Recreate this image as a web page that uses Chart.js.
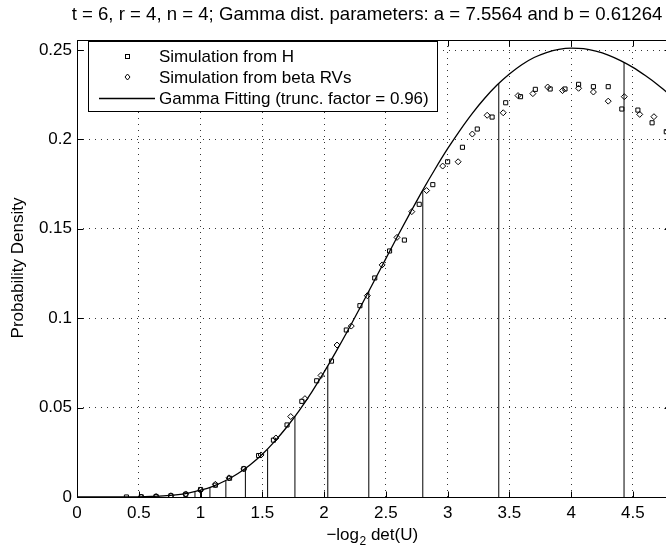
<!DOCTYPE html>
<html>
<head>
<meta charset="utf-8">
<script src="https://cdn.jsdelivr.net/npm/chart.js@4.4.0/dist/chart.umd.min.js"></script>
<style>
html, body { margin: 0; padding: 0; background: #fff; overflow: hidden; width: 666px; height: 553px; }
canvas { display: block; }
</style>
</head>
<body>
<canvas id="pdfChart" width="680" height="553"></canvas>
<script>
// tick positions
const xTicks = [0, 0.5, 1, 1.5, 2, 2.5, 3, 3.5, 4, 4.5];
const yTicks = [0, 0.05, 0.1, 0.15, 0.2, 0.25];

// gamma fit curve
const curveX = [0, 0.3, 0.4, 0.5, 0.6, 0.7, 0.8, 0.9, 1.0, 1.1, 1.2, 1.3, 1.4, 1.5, 1.6, 1.7, 1.8, 1.9, 2.0,
  2.1, 2.2, 2.3, 2.4, 2.5, 2.6, 2.7, 2.8, 2.9, 3.0, 3.1, 3.2, 3.3, 3.4, 3.5, 3.6, 3.7, 3.8, 3.9, 4.0,
  4.1, 4.2, 4.3, 4.4, 4.5, 4.6, 4.7, 4.8];
const curveY = [0, 0, 0.00003, 0.0001, 0.0003, 0.0006, 0.0012, 0.0022, 0.0038, 0.0060, 0.0091, 0.0130, 0.0179, 0.0239, 0.0311, 0.0393, 0.0485, 0.0587, 0.0698,
  0.0817, 0.0941, 0.1070, 0.1201, 0.1333, 0.1465, 0.1593, 0.1718, 0.1836, 0.1948, 0.2051, 0.2146, 0.2230, 0.2304, 0.2366, 0.2418, 0.2458, 0.2486, 0.2504, 0.2511,
  0.2508, 0.2494, 0.2472, 0.2441, 0.2403, 0.2357, 0.2306, 0.2249];

// vertical stems under the curve
const stemX = [0.955, 1.0, 1.076, 1.205, 1.363, 1.543, 1.764, 2.03, 2.362, 2.799, 3.414, 4.428];
const stemY = [0.0030, 0.0038, 0.0054, 0.0092, 0.0160, 0.0267, 0.0451, 0.0733, 0.1151, 0.1716, 0.2312, 0.2432];

// Simulation from H (squares)
const hX = [0.40, 0.52, 0.64, 0.76, 0.88, 1.00, 1.12, 1.235, 1.35, 1.47, 1.59, 1.70, 1.82, 1.94, 2.06,
  2.18, 2.29, 2.41, 2.53, 2.65, 2.77, 2.88, 3.00, 3.12, 3.24, 3.36, 3.47, 3.59, 3.71, 3.83,
  3.95, 4.06, 4.18, 4.30, 4.41, 4.54, 4.655, 4.77];
const hY = [0.0000, 0.0001, 0.0003, 0.0007, 0.0015, 0.0042, 0.0066, 0.0105, 0.0158, 0.0232, 0.0318, 0.0403, 0.0535, 0.0650, 0.0760,
  0.0934, 0.1070, 0.1225, 0.1376, 0.1437, 0.1637, 0.1747, 0.1875, 0.1956, 0.2058, 0.2125, 0.2205, 0.2239, 0.2280, 0.2282,
  0.2282, 0.2308, 0.2295, 0.2295, 0.2170, 0.2164, 0.2093, 0.2043];

// Simulation from beta RVs (diamonds)
const betaX = [0.52, 0.64, 0.76, 0.88, 1.00, 1.12, 1.23, 1.35, 1.49, 1.61, 1.73, 1.845, 1.975, 2.105, 2.22,
  2.35, 2.47, 2.59, 2.71, 2.83, 2.96, 3.085, 3.20, 3.32, 3.45, 3.57, 3.69, 3.81, 3.93, 4.06,
  4.18, 4.30, 4.43, 4.555, 4.67, 4.79];
const betaY = [0.0000, 0.0003, 0.0007, 0.0017, 0.0038, 0.0071, 0.0107, 0.0157, 0.0235, 0.0330, 0.0450, 0.0550, 0.0680, 0.0850, 0.0956,
  0.1126, 0.1298, 0.1452, 0.1596, 0.1714, 0.1851, 0.1875, 0.2030, 0.2135, 0.2149, 0.2245, 0.2256, 0.2293, 0.2273, 0.2286,
  0.2265, 0.2214, 0.2239, 0.2140, 0.2127, 0.2050];

const titleText = 't = 6, r = 4, n = 4; Gamma dist. parameters: a = 7.5564 and b = 0.61264';
const legendLabels = ['Simulation from H', 'Simulation from beta RVs', 'Gamma Fitting (trunc. factor = 0.96)'];
const yLabel = 'Probability Density';

const FONT = "'Liberation Sans', Arial, Helvetica, sans-serif";

function zip(xs, ys) { return xs.map((v, i) => ({ x: v, y: ys[i] })); }

// stems: (x,0) -> (x,y) then a gap
var stemPts = [];
stemX.forEach((v, i) => {
  stemPts.push({ x: v, y: 0 }, { x: v, y: stemY[i] }, { x: v, y: null });
});

function fmt(v) { return String(Math.round(v * 1000) / 1000); }

// frame, inward ticks, legend box, titles
const matlabBits = {
  id: 'matlabBits',
  afterDatasetsDraw(chart) {
    const { ctx, chartArea: a, scales } = chart;
    const x = scales.x, y = scales.y;
    const L = Math.round(a.left) + 0.5, R = Math.round(a.right) + 0.5;
    const T = Math.round(a.top) + 0.5, B = Math.round(a.bottom) + 0.5;
    ctx.save();
    ctx.strokeStyle = '#000';
    ctx.lineWidth = 1;
    ctx.beginPath();
    ctx.rect(L, T, R - L, B - T);
    ctx.stroke();

    // inward ticks
    ctx.beginPath();
    xTicks.forEach(v => {
      const px = Math.round(x.getPixelForValue(v)) + 0.5;
      ctx.moveTo(px, B); ctx.lineTo(px, B - 6);
      ctx.moveTo(px, T); ctx.lineTo(px, T + 6);
    });
    yTicks.forEach(v => {
      const py = Math.round(y.getPixelForValue(v)) + 0.5;
      ctx.moveTo(L, py); ctx.lineTo(L + 6, py);
      ctx.moveTo(R, py); ctx.lineTo(R - 6, py);
    });
    ctx.stroke();

    // legend
    const bx = 88.5, by = 41.5, bw = 349, bh = 70;
    ctx.fillStyle = '#fff';
    ctx.fillRect(bx, by, bw, bh);
    ctx.strokeRect(bx, by, bw, bh);
    const rows = [56.5, 77, 98];
    // square
    ctx.strokeRect(125.5, rows[0] - 2, 4, 4);
    // diamond
    ctx.beginPath();
    ctx.moveTo(127.5, rows[1] - 3); ctx.lineTo(130, rows[1]);
    ctx.lineTo(127.5, rows[1] + 3); ctx.lineTo(125, rows[1]); ctx.closePath();
    ctx.stroke();
    // line
    ctx.beginPath();
    ctx.lineWidth = 1.3;
    ctx.moveTo(99, rows[2] + 0.5); ctx.lineTo(155, rows[2] + 0.5);
    ctx.stroke();
    ctx.fillStyle = '#000';
    ctx.font = '17px ' + FONT;
    ctx.textBaseline = 'middle';
    ctx.textAlign = 'left';
    legendLabels.forEach((t, i) => ctx.fillText(t, 159, rows[i] + 1));

    // title
    ctx.font = '18.6px ' + FONT;
    ctx.textAlign = 'center';
    ctx.textBaseline = 'alphabetic';
    ctx.fillText(titleText, 367, 20);

    // x label: -log_2 det(U)
    const p1 = '\u2212log', p2 = '2', p3 = ' det(U)';
    ctx.font = '17px ' + FONT;
    const w1 = ctx.measureText(p1).width, w3 = ctx.measureText(p3).width;
    ctx.font = '12px ' + FONT;
    const w2 = ctx.measureText(p2).width;
    let sx = 372 - (w1 + w2 + w3) / 2;
    ctx.textAlign = 'left';
    ctx.font = '17px ' + FONT;
    ctx.fillText(p1, sx, 540);
    ctx.font = '12px ' + FONT;
    ctx.fillText(p2, sx + w1 + 0.5, 545);
    ctx.font = '17px ' + FONT;
    ctx.fillText(p3, sx + w1 + w2 + 0.5, 540);

    // y label
    ctx.translate(18, 268);
    ctx.rotate(-Math.PI / 2);
    ctx.textAlign = 'center';
    ctx.textBaseline = 'middle';
    ctx.fillText(yLabel, 0, 0);
    ctx.restore();
  }
};

const gridOpts = { color: '#333', lineWidth: 1, drawTicks: false };
const tickFont = { family: FONT, size: 17 };

new Chart(document.getElementById('pdfChart'), {
  type: 'scatter',
  data: {
    datasets: [
      {
        label: legendLabels[2], data: zip(curveX, curveY), showLine: true,
        borderColor: '#000', borderWidth: 1.3, pointRadius: 0, cubicInterpolationMode: 'monotone', order: 3
      },
      {
        label: 'stems', data: stemPts, showLine: true, spanGaps: false,
        borderColor: '#000', borderWidth: 1, pointRadius: 0, order: 4
      },
      {
        label: legendLabels[0], data: zip(hX, hY), pointStyle: 'rect', pointRadius: 2.9,
        pointBorderColor: '#000', pointBackgroundColor: 'rgba(0,0,0,0)', pointBorderWidth: 1, order: 2
      },
      {
        label: legendLabels[1], data: zip(betaX, betaY), pointStyle: 'rectRot', pointRadius: 3,
        pointBorderColor: '#000', pointBackgroundColor: 'rgba(0,0,0,0)', pointBorderWidth: 1, order: 1
      }
    ]
  },
  options: {
    responsive: false,
    animation: false,
    devicePixelRatio: 1,
    layout: { padding: { left: 0, top: 40, right: 10, bottom: 0 } },
    plugins: { legend: { display: false }, title: { display: false }, tooltip: { enabled: false } },
    scales: {
      x: {
        type: 'linear', min: 0, max: 4.8,
        afterBuildTicks: s => { s.ticks = xTicks.map(v => ({ value: v })); },
        afterFit: s => { s.height = 56; },
        grid: gridOpts,
        border: { display: false, dash: [1, 5] },
        ticks: { padding: 6, color: '#000', font: tickFont, maxRotation: 0, callback: v => fmt(v) }
      },
      y: {
        type: 'linear', min: 0, max: 0.2556,
        afterBuildTicks: s => { s.ticks = yTicks.map(v => ({ value: v })); },
        afterFit: s => { s.width = 77; },
        grid: gridOpts,
        border: { display: false, dash: [1, 5] },
        ticks: { padding: 5, color: '#000', font: tickFont, callback: v => fmt(v) }
      }
    }
  },
  plugins: [matlabBits]
});
</script>
</body>
</html>
